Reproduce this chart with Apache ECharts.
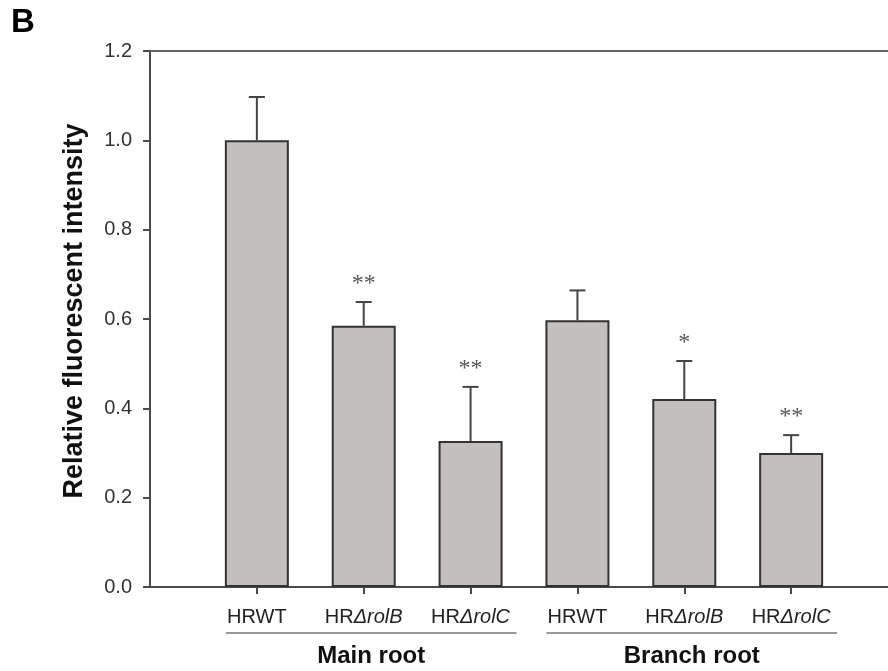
<!DOCTYPE html>
<html>
<head>
<meta charset="utf-8">
<title>Relative fluorescent intensity</title>
<script src="https://cdn.jsdelivr.net/npm/echarts@6/dist/echarts.min.js"></script>
<style>
  html, body { margin: 0; padding: 0; background: #fff; }
  #chart { width: 888px; height: 671px; }
</style>
</head>
<body>
<div id="chart"></div>
<script>
// Root lines, grouped by tissue
const lines = ['HRWT', 'HRΔrolB', 'HRΔrolC', 'HRWT', 'HRΔrolB', 'HRΔrolC'];
// Mean relative fluorescent intensity per line
const means = [1.0, 0.585, 0.327, 0.597, 0.421, 0.300];
// Upper error (standard error) per line
const errors = [0.097, 0.053, 0.121, 0.067, 0.085, 0.040];
// Significance markers versus the wild type
const marks = ['', '**', '**', '', '*', '**'];
// Tissue groups: first and last line index in each
const groups = [
  { name: 'Main root', from: 0, to: 2 },
  { name: 'Branch root', from: 3, to: 5 }
];
const yTicks = [0, 0.2, 0.4, 0.6, 0.8, 1.0, 1.2];

// Axis slots: an empty slot on each side of the six lines
const axisData = [''].concat(lines, ['']);
const barData = [null].concat(means, [null]);
const errData = means.map((m, i) => [i + 1, m, m + errors[i], marks[i]]);

const chart = echarts.init(document.getElementById('chart'));

const axisColor = '#4a4a4a';

chart.setOption({
  animation: false,
  backgroundColor: '#fff',
  // the frame runs past the right edge of the canvas
  grid: { left: 150, width: 748, top: 51, bottom: 84, outerBoundsMode: 'none', containLabel: false },
  xAxis: [{
    type: 'category',
    data: axisData,
    boundaryGap: false,
    axisLine: { lineStyle: { color: axisColor, width: 2 } },
    axisTick: {
      alignWithLabel: true,
      length: 7,
      lineStyle: { color: axisColor, width: 2 },
      interval: (i) => i > 0 && i < axisData.length - 1
    },
    axisLabel: {
      margin: 20,
      interval: 0,
      formatter: (v) => {
        if (!v) return '';
        if (v.indexOf('HRΔ') === 0) return '{n|HR}{i|' + v.slice(2) + '}';
        return '{n|' + v + '}';
      },
      rich: {
        n: { fontFamily: 'Liberation Sans, Arial', fontSize: 20, color: '#222' },
        i: { fontFamily: 'Liberation Sans, Arial', fontSize: 20, fontStyle: 'italic', color: '#222' }
      }
    },
    splitLine: { show: false }
  }, {
    type: 'category',
    data: axisData,
    position: 'top',
    boundaryGap: false,
    axisLine: { lineStyle: { color: '#666', width: 2 } },
    axisTick: { show: false },
    axisLabel: { show: false },
    splitLine: { show: false }
  }],
  yAxis: {
    type: 'value',
    min: 0,
    max: 1.2,
    interval: 0.2,
    name: 'Relative fluorescent intensity',
    nameLocation: 'middle',
    nameRotate: 90,
    nameGap: 62,
    nameTextStyle: {
      fontFamily: 'Liberation Sans, Arial',
      fontWeight: 'bold',
      fontSize: 27,
      color: '#111',
      padding: [0, 0, 0, 16]
    },
    axisLine: { show: true, lineStyle: { color: axisColor, width: 2 } },
    axisTick: { show: true, length: 7, lineStyle: { color: axisColor, width: 2 } },
    axisLabel: {
      margin: 18,
      fontFamily: 'Liberation Sans, Arial',
      fontSize: 20,
      color: '#333',
      formatter: (v) => v.toFixed(1)
    },
    splitLine: { show: false }
  },
  series: [{
    type: 'bar',
    data: barData,
    barWidth: 64,
    itemStyle: { color: '#c2bfbc', borderColor: '#333', borderWidth: 2 },
    z: 2
  }, {
    type: 'custom',
    data: errData,
    encode: { x: 0, y: [1, 2] },
    z: 3,
    renderItem: (params, api) => {
      const x = api.value(0);
      const base = api.coord([x, api.value(1)]);
      const top = api.coord([x, api.value(2)]);
      const cap = 8;
      const style = { stroke: '#444', lineWidth: 2 };
      const children = [
        { type: 'line', shape: { x1: base[0], y1: base[1], x2: top[0], y2: top[1] }, style },
        { type: 'line', shape: { x1: top[0] - cap, y1: top[1], x2: top[0] + cap, y2: top[1] }, style }
      ];
      const sig = api.value(3);
      if (sig) {
        children.push({
          type: 'text',
          style: {
            x: top[0],
            y: top[1] - 6,
            text: sig,
            align: 'center',
            verticalAlign: 'bottom',
            fontFamily: 'Liberation Serif, Times New Roman',
            fontSize: 24,
            fill: '#555'
          }
        });
      }
      return { type: 'group', children };
    }
  }]
});

// Group underlines and tissue names beneath the line labels
const lineY = 633;
const graphics = [];
groups.forEach((g) => {
  const x1 = chart.convertToPixel({ xAxisIndex: 0 }, g.from + 1) - 31;
  const x2 = chart.convertToPixel({ xAxisIndex: 0 }, g.to + 1) + 46;
  graphics.push({
    type: 'line',
    shape: { x1, y1: lineY, x2, y2: lineY },
    style: { stroke: '#777', lineWidth: 1.5 }
  });
  graphics.push({
    type: 'text',
    style: {
      x: (x1 + x2) / 2,
      y: 656,
      text: g.name,
      align: 'center',
      verticalAlign: 'middle',
      fontFamily: 'Liberation Sans, Arial',
      fontWeight: 'bold',
      fontSize: 24,
      fill: '#111'
    }
  });
});
// Panel letter
graphics.push({
  type: 'text',
  style: {
    x: 11,
    y: 23,
    text: 'B',
    align: 'left',
    verticalAlign: 'middle',
    fontFamily: 'Liberation Sans, Arial',
    fontWeight: 'bold',
    fontSize: 33,
    fill: '#000'
  }
});
chart.setOption({ graphic: graphics });
</script>
</body>
</html>
